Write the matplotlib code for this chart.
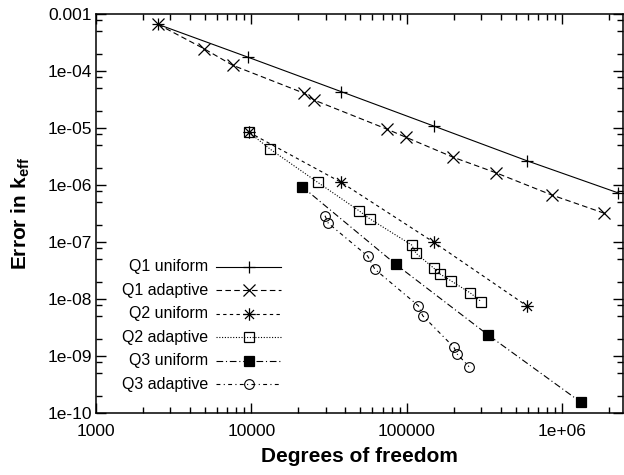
import matplotlib
matplotlib.use("Agg")
import matplotlib.pyplot as plt
import numpy as np
from matplotlib.path import Path
from matplotlib.ticker import FixedLocator, NullFormatter

plt.rcParams['font.family'] = ['Liberation Sans', 'DejaVu Sans']
plt.rcParams['mathtext.fontset'] = 'custom'
plt.rcParams['mathtext.rm'] = 'Liberation Sans'
plt.rcParams['mathtext.bf'] = 'Liberation Sans:bold'

# Error in k_eff versus degrees of freedom
q1u_dof = [2500, 9530, 37800, 149000, 589000, 2270000]
q1u_err = [6.6e-4, 1.74e-4, 4.34e-5, 1.08e-5, 2.67e-6, 7.3e-7]

q1a_dof = [2500, 4950, 7570, 21850, 25200, 74700, 98600, 198600, 373000, 853000, 1860000]
q1a_err = [6.6e-4, 2.46e-4, 1.26e-4, 4.06e-5, 3.1e-5, 9.5e-6, 6.87e-6, 3.06e-6, 1.64e-6, 6.68e-7, 3.19e-7]

q2u_dof = [9640, 37800, 148700, 589000]
q2u_err = [8.4e-6, 1.11e-6, 9.9e-8, 7.6e-9]

q2a_dof = [9640, 13150, 26700, 49100, 57800, 107200, 114300, 149000, 163000, 191000, 254000, 300700]
q2a_err = [8.4e-6, 4.28e-6, 1.11e-6, 3.54e-7, 2.54e-7, 8.85e-8, 6.34e-8, 3.46e-8, 2.75e-8, 2.1e-8, 1.29e-8, 8.97e-9]

q3u_dof = [21200, 84600, 333000, 1315000]
q3u_err = [9.33e-7, 4.07e-8, 2.33e-9, 1.54e-10]

q3a_dof = [29700, 31200, 55800, 62200, 118300, 126200, 200400, 210500, 250600]
q3a_err = [2.89e-7, 2.13e-7, 5.68e-8, 3.32e-8, 7.62e-9, 5.09e-9, 1.42e-9, 1.08e-9, 6.49e-10]

labels = ['Q1 uniform', 'Q1 adaptive', 'Q2 uniform', 'Q2 adaptive', 'Q3 uniform', 'Q3 adaptive']

x_ticks = [1e3, 1e4, 1e5, 1e6]
x_ticklabels = ['1000', '10000', '100000', '1e+06']
y_ticks = [1e-10, 1e-9, 1e-8, 1e-7, 1e-6, 1e-5, 1e-4, 1e-3]
y_ticklabels = ['1e-10', '1e-09', '1e-08', '1e-07', '1e-06', '1e-05', '1e-04', '0.001']

# asterisk marker: plus and cross overlaid
star_path = Path(
    [(-1, 0), (1, 0), (0, -1), (0, 1),
     (-0.72, -0.72), (0.72, 0.72), (-0.72, 0.72), (0.72, -0.72)],
    [Path.MOVETO, Path.LINETO, Path.MOVETO, Path.LINETO,
     Path.MOVETO, Path.LINETO, Path.MOVETO, Path.LINETO])

lw = 0.8
styles = [
    dict(ls='-', marker='+', ms=9, mew=0.9),
    dict(ls=(0, (5, 3)), marker='x', ms=8, mew=0.9),
    dict(ls=(0, (3, 3)), marker=star_path, ms=9, mew=0.9),
    dict(ls=(0, (1, 1.5)), marker='s', ms=7.5, mew=0.9, mfc='none'),
    dict(ls=(0, (6, 2.5, 1, 2.5)), marker='s', ms=7.5, mew=0.9, mfc='black'),
    dict(ls=(0, (3.5, 3, 1, 3)), marker='o', ms=7, mew=0.8, mfc='none'),
]
series = [(q1u_dof, q1u_err), (q1a_dof, q1a_err), (q2u_dof, q2u_err),
          (q2a_dof, q2a_err), (q3u_dof, q3u_err), (q3a_dof, q3a_err)]

fig = plt.figure(figsize=(6.24, 4.75), dpi=100)
ax = fig.add_axes([96 / 624, 62 / 475, 527 / 624, 399 / 475])

for (xd, yd), st in zip(series, styles):
    ax.plot(xd, yd, color='black', lw=lw, mec='black', **st)

ax.set_xscale('log')
ax.set_yscale('log')
ax.set_xlim(1e3, 2.45e6)
ax.set_ylim(1e-10, 1e-3)

ax.xaxis.set_major_locator(FixedLocator(x_ticks))
ax.set_xticklabels(x_ticklabels)
ax.yaxis.set_major_locator(FixedLocator(y_ticks))
ax.set_yticklabels(y_ticklabels)

x_minor = [m * 10.0 ** e for e in range(3, 7) for m in range(2, 10)]
y_minor = [m * 10.0 ** e for e in range(-10, -3) for m in (2, 5, 8)]
ax.xaxis.set_minor_locator(FixedLocator(x_minor))
ax.yaxis.set_minor_locator(FixedLocator(y_minor))
ax.xaxis.set_minor_formatter(NullFormatter())
ax.yaxis.set_minor_formatter(NullFormatter())

ax.tick_params(which='both', direction='in', top=True, right=True, width=1.0, colors='black')
ax.tick_params(which='major', length=7.5, labelsize=12.5)
ax.tick_params(axis='x', which='major', pad=8)
ax.tick_params(axis='y', which='major', pad=3)
ax.tick_params(which='minor', length=4.3)
for sp in ax.spines.values():
    sp.set_linewidth(1.1)

ax.set_xlabel('Degrees of freedom', fontsize=15, fontweight='bold', labelpad=6)
ax.set_ylabel(r'Error in k$_{\mathbf{eff}}$', fontsize=15, fontweight='bold', labelpad=11)

# key: text right-aligned, line sample with marker in the middle
to_ax = lambda px, py: ((px - 96) / 527, (413 - py) / 399)
row0, drow = 267, 23.4
for i, (lab, st) in enumerate(zip(labels, styles)):
    py = row0 + i * drow
    tx, ty = to_ax(208, py)
    ax.text(tx, ty, lab, transform=ax.transAxes, ha='right', va='center', fontsize=11.5)
    x1, _ = to_ax(216, py)
    x2, _ = to_ax(281, py)
    xm, _ = to_ax(248.5, py)
    ax.plot([x1, x2], [ty, ty], transform=ax.transAxes, color='black', lw=lw, ls=st['ls'])
    mst = {k: v for k, v in st.items() if k != 'ls'}
    ax.plot([xm], [ty], transform=ax.transAxes, color='black', mec='black', ls='none', **mst)

fig.savefig('out.png', dpi=100)
